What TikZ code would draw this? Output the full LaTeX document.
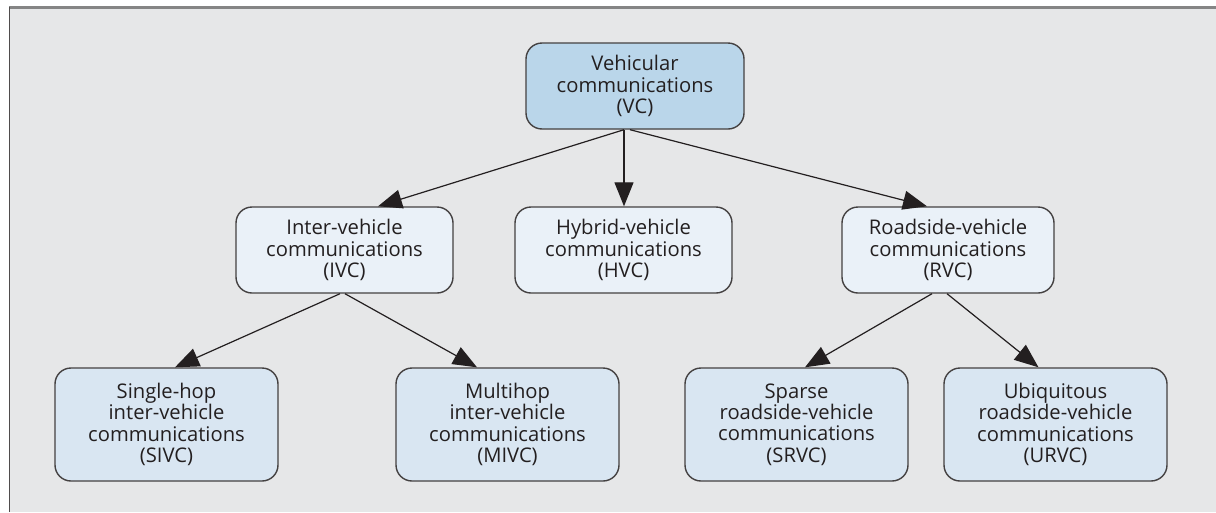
\documentclass[tikz,border=0pt]{standalone}
\usepackage{fontspec}
\setmainfont{Open Sans}
\usetikzlibrary{arrows.meta}
\definecolor{bgc}{HTML}{E6E7E8}
\definecolor{ink}{HTML}{231F20}
\definecolor{topc}{HTML}{BAD6EA}
\definecolor{midc}{HTML}{EAF1F8}
\definecolor{lowc}{HTML}{D9E6F2}
\definecolor{framec}{HTML}{858585}
\tikzset{
  box/.style={draw=ink!85, line width=1.4pt, rounded corners=16pt, align=center,
    text=ink, inner sep=0pt, font=\fontsize{20.2}{21.2}\selectfont},
  boxtop/.style={box, fill=topc, minimum width=218pt, minimum height=86pt},
  boxmid/.style={box, fill=midc, minimum width=217pt, minimum height=86pt},
  boxlow/.style={box, fill=lowc, minimum width=223pt, minimum height=113pt},
  arr/.style={draw=ink, line width=1.2pt, -{Triangle[length=24pt,width=19pt]}}
}
\begin{document}
\begin{tikzpicture}[x=1pt,y=-1pt]
\useasboundingbox (0,0) rectangle (1216,512);
\fill[white] (0,0) rectangle (1216,512);
\fill[bgc] (9,7) rectangle (1216,512);
\draw[framec, line width=2.5pt] (9,7.5) -- (1216,7.5);
\draw[ink!80, line width=1.3pt] (9.5,7) -- (9.5,512);

\node[boxtop] (vc) at (635,86) {Vehicular\\communications\\(VC)};
\node[boxmid] (ivc) at (344.5,250) {Inter-vehicle\\communications\\(IVC)};
\node[boxmid] (hvc) at (623.5,250) {Hybrid-vehicle\\communications\\(HVC)};
\node[boxmid, minimum width=212pt] (rvc) at (948,250) {Roadside-vehicle\\communications\\(RVC)};
\node[boxlow] (sivc) at (166.5,424.5) {Single-hop\\inter-vehicle\\communications\\(SIVC)};
\node[boxlow] (mivc) at (507.5,424.5) {Multihop\\inter-vehicle\\communications\\(MIVC)};
\node[boxlow] (srvc) at (796.5,424.5) {Sparse\\roadside-vehicle\\communications\\(SRVC)};
\node[boxlow] (urvc) at (1055.5,424.5) {Ubiquitous\\roadside-vehicle\\communications\\(URVC)};

\draw[arr] ([xshift=-11pt]vc.south) -- ([xshift=33.5pt]ivc.north);
\draw[arr] ([xshift=-11pt]vc.south) -- ([xshift=0.5pt]hvc.north);
\draw[arr] ([xshift=-5pt]vc.south) -- ([xshift=-21pt]rvc.north);
\draw[arr] ([xshift=-4.5pt]ivc.south) -- ([xshift=8.5pt]sivc.north);
\draw[arr] ([xshift=0.5pt]ivc.south) -- ([xshift=-30.5pt]mivc.north);
\draw[arr] ([xshift=-16pt]rvc.south) -- ([xshift=8.5pt]srvc.north);
\draw[arr] ([xshift=-1pt]rvc.south) -- ([xshift=-17pt]urvc.north);
\end{tikzpicture}
\end{document}
